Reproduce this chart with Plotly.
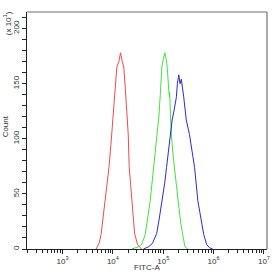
import plotly.graph_objects as go

# log10 fluorescence positions and counts (x10)
red_log = [3.667, 3.725, 3.765, 3.843, 3.922, 3.961, 4.000, 4.053, 4.078, 4.118, 4.151,
           4.186, 4.216, 4.249, 4.294, 4.304, 4.324, 4.373, 4.431, 4.490, 4.569]
red_cnt = [0, 5, 13, 43, 74, 95, 117, 144, 165, 170, 178,
           170, 165, 144, 117, 104, 74, 44, 14, 4, 0]

green_log = [4.373, 4.510, 4.569, 4.641, 4.739, 4.804, 4.873, 4.912, 4.941, 4.971, 5.000,
             5.033, 5.059, 5.078, 5.108, 5.122, 5.127, 5.147, 5.167, 5.206, 5.255, 5.294,
             5.343, 5.382, 5.431, 5.490]
green_cnt = [0, 2, 4, 13, 43, 74, 100, 120, 140, 165, 172,
             178, 172, 165, 145, 138, 142, 117, 100, 80, 60, 43,
             25, 14, 2, 0]

blue_log = [4.608, 4.706, 4.784, 4.869, 4.922, 4.980, 5.029, 5.065, 5.108, 5.147, 5.176,
            5.216, 5.261, 5.280, 5.308, 5.333, 5.359, 5.406, 5.457, 5.520, 5.569, 5.622,
            5.686, 5.745, 5.804, 5.863, 5.922, 5.980]
blue_cnt = [0, 2, 5, 14, 28, 44, 60, 74, 90, 104, 117,
            126, 138, 150, 158, 150, 154, 138, 117, 104, 90, 74,
            44, 28, 13, 4, 1, 0]

x_tick_exp = [3, 4, 5, 6, 7]
x_tick_text = ["10<sup>%d</sup>" % e for e in x_tick_exp]
y_ticks = [0, 50, 100, 150, 200]

series = [
    (red_log, red_cnt, "#ee4a4a"),
    (green_log, green_cnt, "#3ce63c"),
    (blue_log, blue_cnt, "#2a2ad0"),
]

fig = go.Figure()
for lg, cnt, col in series:
    fig.add_trace(go.Scatter(x=[10 ** v for v in lg], y=cnt, mode="lines",
                             line=dict(color=col, width=1), showlegend=False))

minor_x = []
for d in range(2, 7):
    for m in range(2, 10):
        minor_x.append(m * 10 ** d)

tickfont = dict(family="Liberation Sans, Arial", size=8, color="#333333")

fig.update_layout(
    width=279, height=275,
    margin=dict(l=27, r=9, t=12, b=26),
    paper_bgcolor="white", plot_bgcolor="white",
    font=dict(family="Liberation Sans, Arial", size=8, color="#333333"),
    xaxis=dict(type="log", range=[2.294, 7.06], showgrid=False, zeroline=False,
               showline=True, linecolor="#222222", linewidth=1,
               tickmode="array", tickvals=[10 ** e for e in x_tick_exp], ticktext=x_tick_text,
               ticks="outside", ticklen=4, tickcolor="#222222", tickfont=tickfont,
               minor=dict(tickmode="array", tickvals=minor_x, ticks="outside", ticklen=3,
                          tickcolor="#222222", showgrid=False)),
    yaxis=dict(range=[0, 215], showgrid=False, zeroline=False,
               showline=True, linecolor="#222222", linewidth=1,
               tickmode="array", tickvals=y_ticks, ticks="outside", ticklen=4,
               tickcolor="#222222", tickangle=-90, tickfont=tickfont,
               minor=dict(dtick=10, ticks="outside", ticklen=4, tickcolor="#222222",
                          showgrid=False)),
    shapes=[
        dict(type="line", xref="paper", yref="paper", x0=0, x1=1, y0=1, y1=1,
             line=dict(color="#707070", width=1.2)),
        dict(type="line", xref="paper", yref="paper", x0=1, x1=1, y0=0, y1=1,
             line=dict(color="#707070", width=1.2)),
    ],
    annotations=[
        dict(text="(x 10<sup>1</sup>)", xref="paper", yref="paper", x=-0.082, y=0.954,
             textangle=-90, showarrow=False, xanchor="center", yanchor="middle",
             font=dict(size=8, color="#333333")),
        dict(text="Count", xref="paper", yref="paper", x=-0.086, y=0.519,
             textangle=-90, showarrow=False, xanchor="center", yanchor="middle",
             font=dict(size=8, color="#333333")),
        dict(text="FITC-A", xref="paper", yref="paper", x=0.498, y=-0.080,
             showarrow=False, xanchor="center", yanchor="middle",
             font=dict(size=8, color="#333333")),
    ],
)

fig.write_html("out.html")
